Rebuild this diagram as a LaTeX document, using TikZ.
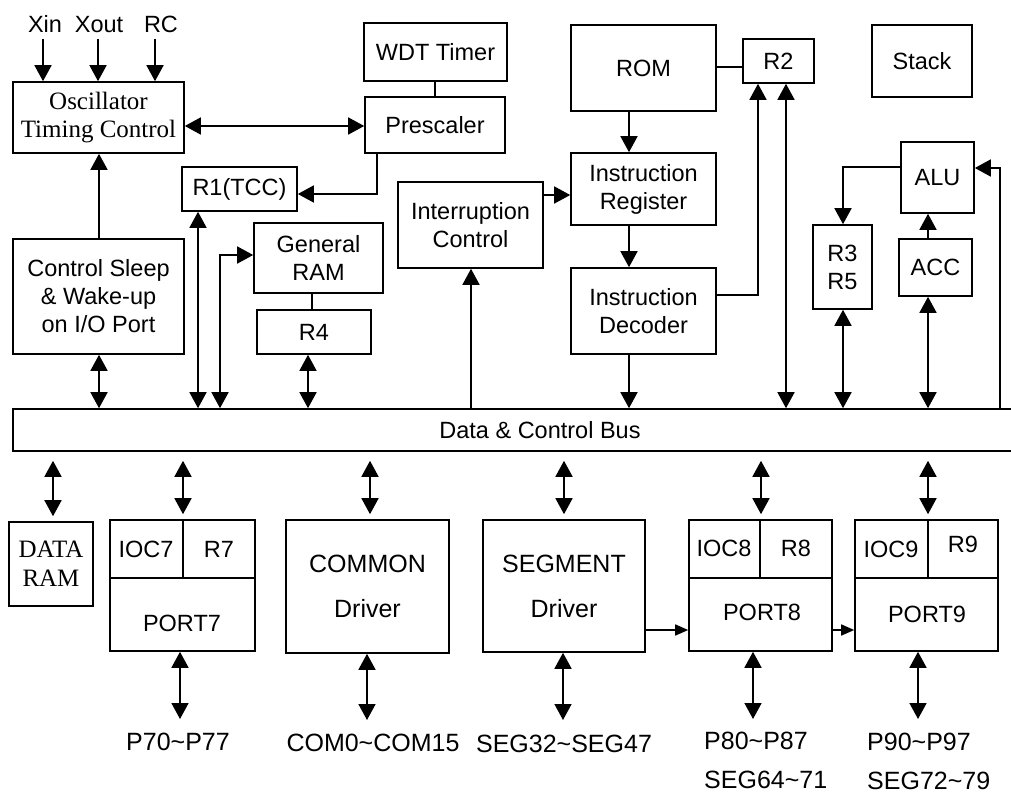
\documentclass[tikz,border=0pt]{standalone}
\usepackage{fontspec}
\setmainfont{Liberation Serif}
\setsansfont{Liberation Sans}
\usetikzlibrary{arrows.meta}
% box from its corners: [style]{name}{x1}{y1}{x2}{y2}{text}
\newcommand{\mkbox}[7][]{%
  \node[blk,minimum width={(#5-#3)*1pt},minimum height={(#6-#4)*1pt},#1]
    (#2) at ({(#3+#5)/2},{(#4+#6)/2}) {#7};}
\newcommand{\tld}{\textasciitilde}
\begin{document}
\begin{tikzpicture}[x=1pt,y=-1pt,
  blk/.style={draw,line width=1.6pt,inner sep=0pt,align=center,
    font=\sffamily\fontsize{23.5}{28}\selectfont},
  serif/.style={font=\rmfamily\fontsize{25}{28}\selectfont},
  drv/.style={font=\sffamily\fontsize{25}{45}\selectfont},
  txt/.style={inner sep=0pt,font=\sffamily\fontsize{23.5}{28}\selectfont},
  pin/.style={inner sep=0pt,font=\sffamily\fontsize{25}{30}\selectfont},
  wire/.style={line width=1.6pt},
  ar/.style={wire,-{Triangle[length=16pt,width=17pt]}},
  bb/.style={wire,{Triangle[length=16pt,width=17pt]}-{Triangle[length=16pt,width=17pt]}},
  sar/.style={wire,-{Triangle[length=13pt,width=11pt]}},
  busbb/.style={bb,shorten <=9pt,shorten >=5pt},
]
\useasboundingbox (0,0) rectangle (1011,795);
\fill[white] (0,0) rectangle (1011,795);

% ---------- upper blocks ----------
\mkbox[serif]{osc}{13}{82}{184}{153}{Oscillator\\Timing Control}
\mkbox{wdt}{364}{23}{507}{81}{WDT Timer}
\mkbox{pre}{365}{97}{505}{153}{Prescaler}
\mkbox{r1}{182}{167}{297}{211}{R1(TCC)}
\mkbox{rom}{571}{25}{716}{111}{ROM}
\mkbox{r2}{743}{39}{814}{83}{R2}
\mkbox{stack}{872}{25}{972}{97}{Stack}
\mkbox{ir}{571}{153}{716}{225}{Instruction\\Register}
\mkbox{intr}{398}{182}{543}{268}{Interruption\\Control}
\mkbox{alu}{901}{142}{974}{213}{ALU}
\mkbox{sleep}{13}{239}{184}{354}{Control Sleep\\\& Wake-up\\on I/O Port}
\mkbox{gram}{254}{223}{383}{293}{General\\RAM}
\mkbox{r4}{257}{310}{371}{354}{R4}
\mkbox{id}{571}{268}{716}{354}{Instruction\\Decoder}
\mkbox{rr}{813}{225}{872}{309}{R3\\R5}
\mkbox{acc}{899}{239}{972}{296}{ACC}

% ---------- bus ----------
\mkbox{bus}{13}{409}{1030}{451}{}
\node[txt] (bustxt) at (540,430) {Data \& Control Bus};

% ---------- lower blocks ----------
\mkbox[font=\rmfamily\fontsize{25}{29}\selectfont]{dram}{9}{522}{93}{606}{DATA\\RAM}
\mkbox{port7}{110}{520}{255}{651}{}
\mkbox[drv]{common}{286}{520}{449}{653}{COMMON\\Driver}
\mkbox[drv]{segment}{483}{520}{645}{652}{SEGMENT\\Driver}
\mkbox{port8}{689}{520}{832}{651}{}
\mkbox{port9}{855}{520}{998}{651}{}

% port register rows
\draw[wire] (port7.west |- 0,578) -- (port7.east |- 0,578);
\draw[wire] (port7.north -| 183,0) -- (183,578);
\draw[wire] (port8.west |- 0,578) -- (port8.east |- 0,578);
\draw[wire] (port8.north -| 760,0) -- (760,578);
\draw[wire] (port9.west |- 0,578) -- (port9.east |- 0,578);
\draw[wire] (port9.north -| 928,0) -- (928,578);
\node[txt] (ioc7) at (146,549) {IOC7};
\node[txt] (r7) at (219,549) {R7};
\node[txt] (p7) at (182,623) {PORT7};
\node[txt] (ioc8) at (724,548) {IOC8};
\node[txt] (r8) at (796,548) {R8};
\node[txt] (p8) at (762,612) {PORT8};
\node[txt] (ioc9) at (891,549) {IOC9};
\node[txt] (r9) at (963,544) {R9};
\node[txt] (p9) at (927,614) {PORT9};

% ---------- clock inputs ----------
\node[txt,anchor=base] (xin) at (45,32) {Xin};
\node[txt,anchor=base] (xout) at (99,32) {Xout};
\node[txt,anchor=base] (rc) at (161,32) {RC};
\draw[ar] (xin.south -| 43,0) ++(0,7) -- (osc.north -| 43,0);
\draw[ar] (xout.south -| 98,0) ++(0,7) -- (osc.north -| 98,0);
\draw[ar] (rc.south -| 155,0) ++(0,7) -- (osc.north -| 155,0);

% ---------- upper connections ----------
\draw[bb] (osc.east |- 0,126) -- (pre.west |- 0,126);
\draw[ar] (sleep.north -| 99,0) -- (osc.south -| 99,0);
\draw[wire] (wdt.south -| 435,0) -- (pre.north -| 435,0);
\draw[ar] (pre.south -| 377,0) |- (r1.east |- 0,194);
\draw[wire] (rom.east |- 0,67) -- (r2.west |- 0,67);
\draw[ar] (rom.south -| 629,0) -- (ir.north -| 629,0);
\draw[ar] (ir.south -| 629,0) -- (id.north -| 629,0);
\draw[ar] (id.south -| 629,0) -- (bus.north -| 629,0);
\draw[ar] (intr.east |- 0,195) -- (ir.west |- 0,195);
\draw[ar] (bus.north -| 471,0) -- (intr.south -| 471,0);
\draw[ar] (id.east |- 0,295) -| (r2.south -| 758,0);
\draw[bb] (bus.north -| 786,0) -- (r2.south -| 786,0);
\draw[ar] (alu.west |- 0,167) -| (rr.north -| 843,0);
\draw[ar] (acc.north -| 928,0) -- (alu.south -| 928,0);
\draw[ar] (bus.north -| 1000,0) |- (alu.east |- 0,168);
\draw[bb] (rr.south -| 843,0) -- (bus.north -| 843,0);
\draw[bb] (acc.south -| 928,0) -- (bus.north -| 928,0);
\draw[bb] (r1.south -| 198,0) -- (bus.north -| 198,0);
\draw[bb] (bus.north -| 220,0) |- (gram.west |- 0,255);
\draw[wire] (gram.south -| 312,0) -- (r4.north -| 312,0);
\draw[bb] (r4.south -| 308,0) -- (bus.north -| 308,0);
\draw[bb] (sleep.south -| 99,0) -- (bus.north -| 99,0);

% ---------- bus to lower blocks ----------
\draw[busbb] (bus.south -| 53,0) -- (dram.north -| 53,0);
\draw[busbb] (bus.south -| 183,0) -- (port7.north -| 183,0);
\draw[busbb] (bus.south -| 370,0) -- (common.north -| 370,0);
\draw[busbb] (bus.south -| 564,0) -- (segment.north -| 564,0);
\draw[busbb] (bus.south -| 761,0) -- (port8.north -| 761,0);
\draw[busbb] (bus.south -| 928,0) -- (port9.north -| 928,0);
\draw[sar] (segment.east |- 0,630) -- (port8.west |- 0,630);
\draw[sar] (port8.east |- 0,630) -- (port9.west |- 0,630);

% ---------- external pins ----------
\node[pin,anchor=base] (l7) at (178,750) {P70\tld P77};
\node[pin,anchor=base] (lcom) at (373,751) {COM0\tld COM15};
\node[pin,anchor=base] (lseg) at (564,752) {SEG32\tld SEG47};
\node[pin,anchor=base west] (l8) at (704,749) {P80\tld P87};
\node[pin,anchor=base west] (l8s) at (704,788) {SEG64\tld 71};
\node[pin,anchor=base west] (l9) at (867,750) {P90\tld P97};
\node[pin,anchor=base west] (l9s) at (867,789) {SEG72\tld 79};
\coordinate (e7) at (180,719);
\coordinate (ecom) at (367,720);
\coordinate (eseg) at (563,720);
\coordinate (e8) at (753,719);
\coordinate (e9) at (918,719);
\draw[bb] (port7.south -| e7) -- (e7);
\draw[bb] (common.south -| ecom) -- (ecom);
\draw[bb] (segment.south -| eseg) -- (eseg);
\draw[bb] (port8.south -| e8) -- (e8);
\draw[bb] (port9.south -| e9) -- (e9);
\end{tikzpicture}
\end{document}
